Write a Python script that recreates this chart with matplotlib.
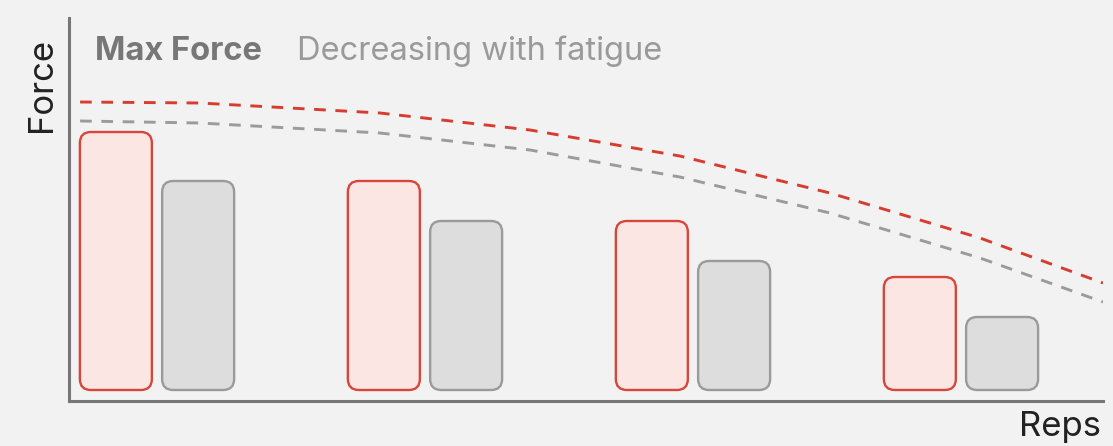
import matplotlib
matplotlib.use("Agg")
import matplotlib.pyplot as plt
from matplotlib.patches import FancyBboxPatch
import numpy as np

# ---- data ----
groups = [0, 1, 2, 3]
max_force = [258, 209, 169, 113]
fatigued_force = [209, 169, 129, 73]
curve_reps = [-0.287, 0.16, 0.832, 1.392, 1.951, 2.511, 3.071, 3.53]
curve_max = [288, 287, 277, 260, 234, 197, 152, 107]
curve_fatigued = [269, 267, 257, 240, 213, 177, 132, 88]

title_bold = "Max Force"
title_sub = "Decreasing with fatigue"
ylabel = "Force"
xlabel = "Reps"

# ---- style ----
BG = "#f2f2f2"
RED_EDGE = "#d8453b"
RED_FILL = "#fbe6e4"
GRAY_EDGE = "#9a9a9a"
GRAY_FILL = "#dddddd"
RED_LINE = "#d73c30"
GRAY_LINE = "#9b9b9b"
FONT = ["Inter", "DejaVu Sans"]

W, H = 1113, 446
fig = plt.figure(figsize=(W / 100, H / 100), dpi=100, facecolor=BG)
ax = fig.add_axes([69 / W, (H - 401) / H, (1103 - 69) / W, (401 - 18) / H])
ax.set_facecolor(BG)
ax.set_xlim(-0.3284, 3.53)
ax.set_ylim(-11, 372)

for s in ["top", "right"]:
    ax.spines[s].set_visible(False)
for s in ["left", "bottom"]:
    ax.spines[s].set_color("#777777")
    ax.spines[s].set_linewidth(2.2)
ax.set_xticks([])
ax.set_yticks([])

# pixel scales
bbox = ax.get_window_extent()
px_per_x = bbox.width / (ax.get_xlim()[1] - ax.get_xlim()[0])
px_per_y = bbox.height / (ax.get_ylim()[1] - ax.get_ylim()[0])
aspect = px_per_x / px_per_y

offset = 0.1535
width = 72 / px_per_x
radius_px = 11
r = radius_px / px_per_x

def rbar(xc, h, fc, ec):
    p = FancyBboxPatch((xc - width / 2, 0), width, h,
                       boxstyle=f"round,pad=0,rounding_size={r}",
                       mutation_aspect=aspect,
                       facecolor=fc, edgecolor=ec, linewidth=1.7, zorder=3)
    ax.add_patch(p)

for g, a, b in zip(groups, max_force, fatigued_force):
    rbar(g - offset, a, RED_FILL, RED_EDGE)
    rbar(g + offset, b, GRAY_FILL, GRAY_EDGE)

ax.plot(curve_reps, curve_max, color=RED_LINE, lw=2.1, dashes=(4, 3.3), zorder=2)
ax.plot(curve_reps, curve_fatigued, color=GRAY_LINE, lw=2.1, dashes=(4, 3.3), zorder=2)

fig.text(95 / W, 1 - 51 / H, title_bold, fontsize=23.5, fontweight="bold",
         color="#777777", va="center", ha="left", family=FONT)
fig.text(297 / W, 1 - 51 / H, title_sub, fontsize=23.5,
         color="#9a9a9a", va="center", ha="left", family=FONT)
fig.text(42 / W, 1 - 85 / H, ylabel, fontsize=25, rotation=90,
         color="#222222", va="center", ha="center", family=FONT)
fig.text(1101 / W, 1 - 427 / H, xlabel, fontsize=25,
         color="#222222", va="center", ha="right", family=FONT)

fig.savefig("out.png", dpi=100, facecolor=BG)
